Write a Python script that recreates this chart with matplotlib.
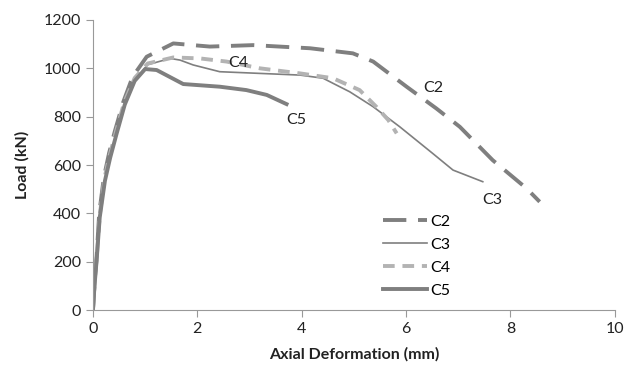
import matplotlib.pyplot as plt

plt.rcParams['font.family'] = ['Lato', 'DejaVu Sans']

# curves: axial deformation (mm), load (kN)
c2_x = [0, 0.03, 0.07, 0.12, 0.21, 0.31, 0.42, 0.58, 0.76, 1.03, 1.54, 2.24, 3.07, 4.16, 4.98, 5.37, 6.01, 6.58, 7.03, 7.66, 8.31, 8.56]
c2_y = [0, 110, 220, 400, 550, 650, 740, 860, 965, 1048, 1103, 1090, 1096, 1083, 1062, 1028, 924, 834, 758, 620, 503, 448]

c3_x = [0, 0.03, 0.07, 0.13, 0.23, 0.33, 0.45, 0.61, 0.8, 1.05, 1.48, 1.67, 1.92, 2.43, 3.2, 3.97, 4.41, 4.6, 4.92, 5.37, 5.88, 6.51, 6.9, 7.47]
c3_y = [0, 100, 207, 386, 538, 634, 731, 855, 950, 1015, 1041, 1034, 1014, 986, 979, 972, 959, 938, 903, 841, 758, 648, 579, 531]

c4_x = [0, 0.03, 0.07, 0.13, 0.22, 0.32, 0.44, 0.6, 0.8, 1.05, 1.54, 2.05, 2.56, 3.2, 3.97, 4.6, 5.11, 5.43, 5.66, 5.82]
c4_y = [0, 105, 212, 392, 545, 640, 737, 860, 960, 1020, 1045, 1041, 1028, 1000, 979, 959, 910, 841, 786, 731]

c5_x = [0, 0.03, 0.07, 0.13, 0.23, 0.33, 0.45, 0.61, 0.8, 1.0, 1.22, 1.73, 2.43, 2.94, 3.33, 3.71]
c5_y = [0, 100, 205, 383, 535, 630, 727, 850, 948, 997, 993, 935, 924, 910, 890, 852]

labels = ['C2', 'C3', 'C4', 'C5']
label_pos = [(6.52, 917), (7.66, 455), (2.78, 1021), (3.9, 786)]

fig = plt.figure(figsize=(6.28, 3.70), dpi=100)
ax = fig.add_axes([0.148, 0.162, 0.831, 0.784])

ax.plot(c2_x, c2_y, color='#7f7f7f', lw=2.8, dashes=(6, 3), label='C2')
ax.plot(c3_x, c3_y, color='#7f7f7f', lw=1.2, label='C3')
ax.plot(c4_x, c4_y, color='#b3b3b3', lw=2.8, dashes=(3, 2), label='C4')
ax.plot(c5_x, c5_y, color='#7f7f7f', lw=2.8, label='C5')

for name, (lx, ly) in zip(labels, label_pos):
    ax.text(lx, ly, name, ha='center', va='center', fontsize=11.5, color='#222222')

ax.set_xlim(0, 10)
ax.set_ylim(0, 1200)
ax.set_xticks(range(0, 11, 2))
ax.set_yticks(range(0, 1201, 200))
ax.set_xlabel('Axial Deformation (mm)', fontsize=11.5, fontweight='bold', color='#222222', labelpad=8)
ax.set_ylabel('Load (kN)', fontsize=11.5, fontweight='bold', color='#222222', labelpad=10)

for s in ['top', 'right']:
    ax.spines[s].set_visible(False)
for s in ['left', 'bottom']:
    ax.spines[s].set_color('#999999')
ax.tick_params(colors='#999999', labelcolor='#222222', labelsize=11.5, length=5, direction='out')

ax.legend(loc='lower left', bbox_to_anchor=(0.556, 0.042), frameon=False, fontsize=11.5,
          handlelength=2.75, labelspacing=0.55, handletextpad=0.2, borderaxespad=0,
          borderpad=0)

fig.savefig('out.png', dpi=100)
